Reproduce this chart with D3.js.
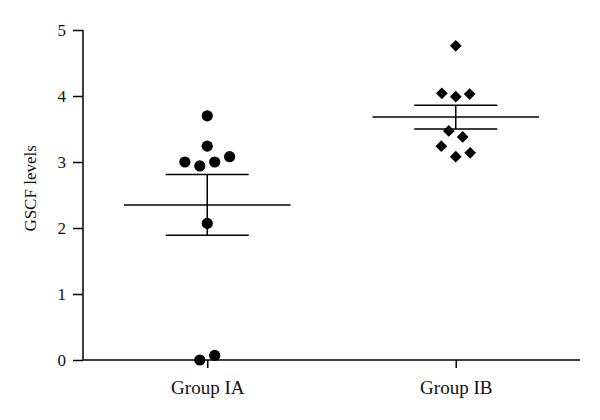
<!DOCTYPE html>
<html>
<head>
<meta charset="utf-8">
<script src="https://cdn.jsdelivr.net/npm/d3@7"></script>
<style>
	body { margin: 0; background: #fff; }
	text { font-family: "Liberation Serif", "DejaVu Serif", serif; }
</style>
</head>
<body>
<div id="chart"></div>
<script>
var margin = { top: 30, right: 20, bottom: 60, left: 83 },
	width = 580 - margin.left,
	height = 360 - margin.top;

const groups = ["Group IA", "Group IB"];
const groupIA = [3.70, 3.24, 3.00, 2.94, 3.00, 3.08, 2.07, 0.00, 0.07];
const groupIB = [4.76, 4.04, 3.99, 4.03, 3.47, 3.38, 3.24, 3.14, 3.08];
// small horizontal offsets of the dots (in category units) so they don't overlap
const jitterIA = [0, 0, -0.09, -0.03, 0.03, 0.09, 0, -0.03, 0.03];
const jitterIB = [0, -0.056, 0, 0.056, -0.028, 0.028, -0.058, 0.058, 0];
const means = [2.35, 3.68];
const sems = [0.46, 0.18];
const yTicks = [0, 1, 2, 3, 4, 5];

var svg = d3.select("#chart")
	.append("svg")
	.attr("width", 600)
	.attr("height", 420)
	.append("g")
	.attr("transform", "translate(" + margin.left + "," + margin.top + ")");

var x = d3.scalePoint().domain(groups).range([0, width]).padding(0.5);
var y = d3.scaleLinear().domain([0, 5]).range([height, 0]);
var step = x.step();

// Y axis
var yAxis = svg.append("g")
	.call(d3.axisLeft(y).tickValues(yTicks).tickSize(10).tickPadding(7).tickFormat(d3.format("d")));
yAxis.select(".domain").attr("stroke", "#000").attr("stroke-width", 1.5).attr("d", "M0," + height + "V0");
yAxis.selectAll(".tick line").attr("stroke-width", 1.5);
yAxis.selectAll("text").style("font-size", "17px").attr("fill", "#111");

// X axis
var xAxis = svg.append("g")
	.attr("transform", "translate(0," + height + ")")
	.call(d3.axisBottom(x).tickSize(8).tickPadding(13));
xAxis.select(".domain").attr("stroke-width", 1.5).attr("d", "M0,0H" + width);
xAxis.selectAll(".tick line").attr("stroke-width", 1.5);
xAxis.selectAll("text").style("font-size", "19px").attr("fill", "#111");

svg.append("text")
	.attr("transform", "rotate(-90)")
	.attr("x", -(y(2.6)))
	.attr("y", -47)
	.attr("text-anchor", "middle")
	.style("font-size", "17px")
	.attr("fill", "#111")
	.text("GSCF levels");

// Mean and SEM bars
var stats = groups.map(function (g, i) { return { g: g, m: means[i], s: sems[i] }; });
var bars = svg.append("g").attr("stroke", "#000").attr("stroke-width", 1.5);
stats.forEach(function (d) {
	var cx = x(d.g);
	var meanHalf = step * 0.335, capHalf = step * 0.167;
	bars.append("line").attr("x1", cx - meanHalf).attr("x2", cx + meanHalf).attr("y1", y(d.m)).attr("y2", y(d.m));
	bars.append("line").attr("x1", cx).attr("x2", cx).attr("y1", y(d.m + d.s)).attr("y2", y(d.m - d.s));
	bars.append("line").attr("x1", cx - capHalf).attr("x2", cx + capHalf).attr("y1", y(d.m + d.s)).attr("y2", y(d.m + d.s));
	bars.append("line").attr("x1", cx - capHalf).attr("x2", cx + capHalf).attr("y1", y(d.m - d.s)).attr("y2", y(d.m - d.s));
});

// Group IA: circles
svg.selectAll(".dotA")
	.data(groupIA)
	.enter()
	.append("circle")
	.attr("cx", function (d, i) { return x("Group IA") + jitterIA[i] * step; })
	.attr("cy", function (d) { return y(d); })
	.attr("r", 5.6)
	.attr("fill", "#000");

// Group IB: diamonds
svg.selectAll(".dotB")
	.data(groupIB)
	.enter()
	.append("path")
	.attr("d", d3.symbol().type(d3.symbolDiamond2).size(88))
	.attr("transform", function (d, i) {
		return "translate(" + (x("Group IB") + jitterIB[i] * step) + "," + y(d) + ")";
	})
	.attr("fill", "#000");
</script>
</body>
</html>
